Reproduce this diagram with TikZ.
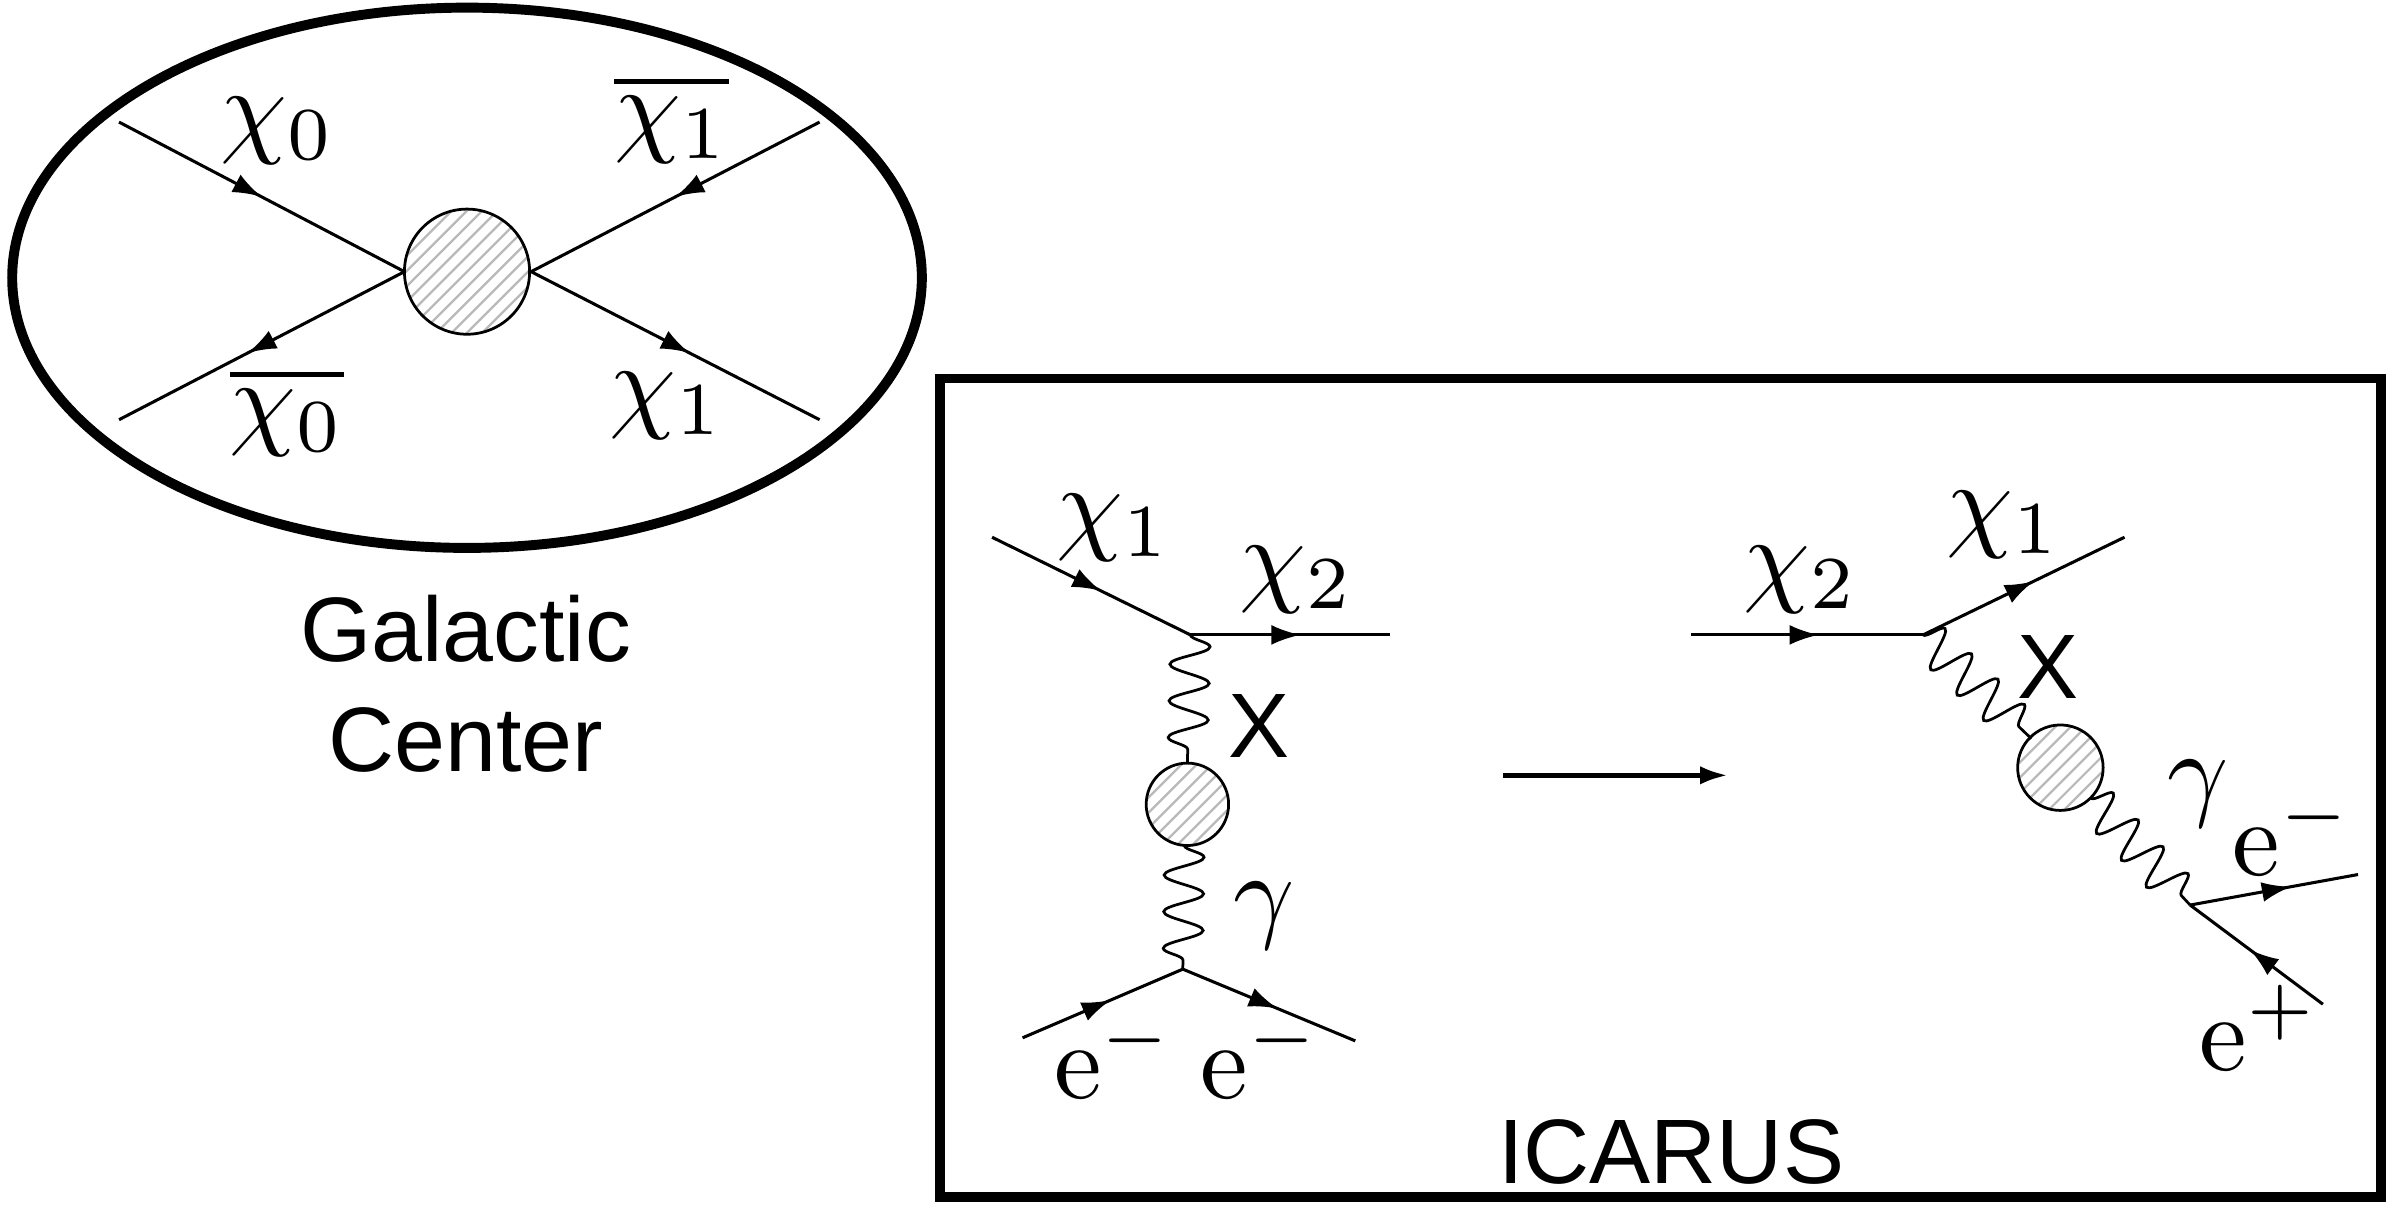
\documentclass[tikz,border=0pt]{standalone}
\usepackage{fontspec}
\newfontfamily\sansf{Liberation Sans}
\usetikzlibrary{decorations.markings,decorations.pathmorphing,arrows.meta}
\begin{document}
\begin{tikzpicture}[x=1pt,y=-1pt,
 fline/.style={line width=2pt},
 arrmid/.style={fline,postaction={decorate},decoration={markings,mark=at position #1 with {\arrow{Latex[length=19pt,width=13pt]}}}},
 arrmid/.default=0.55,
 wavy/.style={line width=1.8pt,decorate,decoration={snake,segment length=24pt,amplitude=13pt}},
 lab/.style={scale=7,inner sep=0pt},
 slab/.style={font=\sansf\fontsize{60}{64}\selectfont}]
\useasboundingbox (0,0) rectangle (1564,789);
\newcommand{\blob}[3]{%
 \begin{scope}
 \clip (#1,#2) circle (#3);
 \foreach \k in {-70,-60,...,70} {\draw[gray!55,line width=1.5pt] (#1+\k-#3,#2+#3) -- (#1+\k+#3,#2-#3);}
 \end{scope}
 \draw[line width=1.8pt] (#1,#2) circle (#3);}
% Galactic
\draw[line width=6.5pt] (306,182) ellipse (298 and 177);
\coordinate (c) at (265,178); \coordinate (d) at (348,178);
\draw[arrmid=0.5] (78,80) -- (c);
\draw[arrmid=0.55] (c) -- (78,275);
\draw[arrmid=0.5] (537,80) -- (d);
\draw[arrmid=0.55] (d) -- (537,275);
\blob{306}{178}{41}
\node[lab] (a0) at (182,86) {$\chi_0$};
\node[lab] (a1) at (440,78) {$\overline{\chi_1}$};
\node[lab] (a2) at (188,270) {$\overline{\chi_0}$};
\node[lab] (a3) at (437,266) {$\chi_1$};
\node[slab] (g1) at (305,412) {Galactic};
\node[slab] (g2) at (305,485) {Center};
% box
\draw[line width=6.5pt] (616,248) rectangle (1560,784);
\coordinate (v1) at (780,416); \coordinate (v2) at (775,635);
\draw[arrmid=0.55] (650,352) -- (v1);
\draw[arrmid=0.55] (v1) -- (911,416);
\draw[wavy] (v1) -- (778,500);
\blob{778}{527}{27}
\draw[wavy] (776,554) -- (v2);
\draw[arrmid=0.55] (670,680) -- (v2);
\draw[arrmid=0.55] (v2) -- (888,682);
\node[lab] (b1) at (730,346) {$\chi_1$};
\node[lab] (b2) at (850,380) {$\chi_2$};
\node[slab] (b3) at (825,476) {X};
\node[lab] (b4) at (828,600) {$\gamma$};
\node[lab] (b5) at (730,692) {$\mathrm{e}^-$};
\node[lab] (b6) at (826,692) {$\mathrm{e}^-$};
\draw[line width=3pt,-{Latex[length=18pt,width=12pt]}] (985,508) -- (1132,508);
\coordinate (w1) at (1260,416); \coordinate (w2) at (1435,593);
\draw[arrmid=0.55] (1108,416) -- (w1);
\draw[arrmid=0.55] (w1) -- (1392,352);
\draw[wavy] (w1) -- (1331,484);
\blob{1350}{503}{28}
\draw[wavy] (1370,523) -- (w2);
\draw[arrmid=0.6] (w2) -- (1545,573);
\draw[arrmid=0.55] (1522,658) -- (w2);
\node[lab] (r1) at (1180,380) {$\chi_2$};
\node[lab] (r2) at (1313,344) {$\chi_1$};
\node[slab] (r3) at (1342,437) {X};
\node[lab] (r4) at (1440,520) {$\gamma$};
\node[lab] (r5) at (1502,546) {$\mathrm{e}^-$};
\node[lab] (r6) at (1480,674) {$\mathrm{e}^+$};
\node[slab] (ic) at (1095,755) {ICARUS};
\end{tikzpicture}
\end{document}
